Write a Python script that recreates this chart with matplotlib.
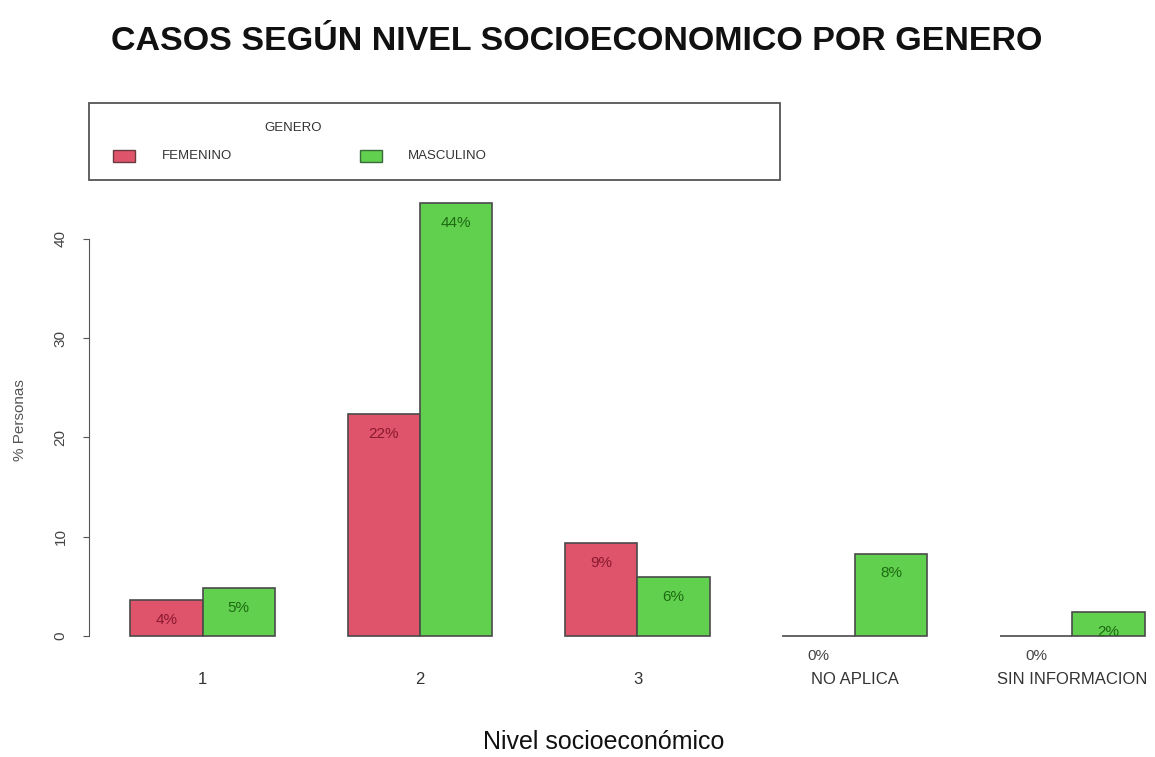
import matplotlib.pyplot as plt
from matplotlib.patches import Rectangle
import numpy as np

# Porcentaje de personas por nivel socioeconomico y genero
niveles = ["1", "2", "3", "NO APLICA", "SIN INFORMACION"]
femenino = [3.6, 22.4, 9.4, 0.0, 0.0]
masculino = [4.8, 43.6, 5.9, 8.3, 2.4]

col_f = "#DF536B"
col_m = "#61D04F"

plt.rcParams['font.family'] = ['Liberation Sans', 'DejaVu Sans']

fig = plt.figure(figsize=(11.55, 7.57), dpi=100)
W, H = 1155, 757

# axes placed in pixel coordinates of the canvas
left, right, top, bottom = 89, 1150, 103, 660
ax = fig.add_axes([left / W, 1 - bottom / H, (right - left) / W, (bottom - top) / H])

# barplot estilo R: 2 barras por grupo + 1 de espacio
x0 = 1 + 3 * np.arange(len(niveles))
ax.bar(x0, femenino, width=1, align="edge", color=col_f, edgecolor="#4a4a4a", linewidth=1.2)
ax.bar(x0 + 1, masculino, width=1, align="edge", color=col_m, edgecolor="#4a4a4a", linewidth=1.2)

for xf, v in zip(x0, femenino):
    c = "#8B1A2E" if v > 0 else "#444444"
    ax.text(xf + 0.5, v - 2, f"{round(v)}%", ha="center", va="center", fontsize=11, color=c)
for xm, v in zip(x0 + 1, masculino):
    ax.text(xm + 0.5, v - 2, f"{round(v)}%", ha="center", va="center", fontsize=11, color="#1E6B12")

ax.set_xlim(0.434, 15.07)
ax.set_ylim(-2.42, 53.7)

for s in ["top", "right", "bottom"]:
    ax.spines[s].set_visible(False)
ax.spines["left"].set_bounds(0, 40)
ax.spines["left"].set_color("#555555")
ax.set_yticks([0, 10, 20, 30, 40])
ax.set_yticklabels(["0", "10", "20", "30", "40"], rotation=90, va="center", fontsize=11, color="#444444")
ax.tick_params(axis="y", length=4.5, color="#555555", pad=11)

ax.set_xticks(x0 + 1)
ax.set_xticklabels(niveles, fontsize=12, color="#333333")
ax.tick_params(axis="x", length=0, pad=9)

fig.text(20 / W, 1 - 420 / H, "% Personas", rotation=90, ha="center", va="center",
         fontsize=11, color="#555555")
fig.text(604 / W, 1 - 742 / H, "Nivel socioeconómico", ha="center", va="center",
         fontsize=18, color="#111111")
fig.text(577 / W, 1 - 42 / H, "CASOS SEGÚN NIVEL SOCIOECONOMICO POR GENERO",
         ha="center", va="center", fontsize=24.5, fontweight="bold", color="#111111")

# leyenda dibujada a mano en la parte superior
fig.patches.append(Rectangle((89 / W, 1 - 180 / H), (780 - 89) / W, (180 - 103) / H,
                             transform=fig.transFigure, fill=False, edgecolor="#555555",
                             linewidth=1.3))
fig.text(293 / W, 1 - 128 / H, "GENERO", ha="center", va="center", fontsize=9.5, color="#333333")
fig.patches.append(Rectangle((113 / W, 1 - 162 / H), 22 / W, 12 / H, transform=fig.transFigure,
                             facecolor=col_f, edgecolor="#6a3a40", linewidth=1))
fig.text(162 / W, 1 - 156 / H, "FEMENINO", ha="left", va="center", fontsize=9.5, color="#333333")
fig.patches.append(Rectangle((360 / W, 1 - 162 / H), 22 / W, 12 / H, transform=fig.transFigure,
                             facecolor=col_m, edgecolor="#3a6a3a", linewidth=1))
fig.text(408 / W, 1 - 156 / H, "MASCULINO", ha="left", va="center", fontsize=9.5, color="#333333")

fig.savefig("out.png", dpi=100)
